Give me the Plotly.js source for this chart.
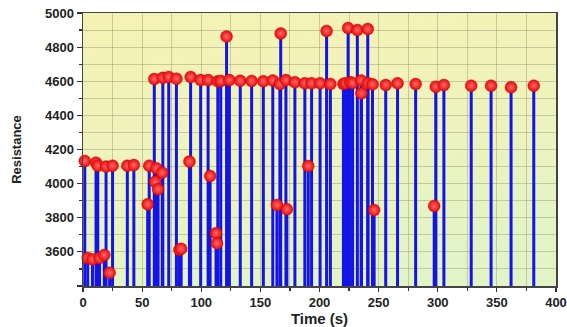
<!DOCTYPE html>
<html>
<head>
<meta charset="utf-8">
<script src="https://cdn.plot.ly/plotly-3.0.1.min.js"></script>
<style>
  html, body { margin: 0; padding: 0; background: #ffffff; }
  #chart { width: 567px; height: 327px; }
</style>
</head>
<body>
<div id="chart"></div>
<script>
// Time (s) of each measurement
const times = [
  1.5, 4, 8, 11, 12.5, 14, 18, 19.5, 22.5, 25,
  37.5, 43, 54.7, 56, 60.3, 61, 62, 63.5, 67, 67.5,
  72.5, 79, 81.5, 83, 90, 91, 99.5, 105.8, 107.5, 112.5,
  113.3, 114, 116.5, 121.4, 123.8, 133, 142.6, 152.5, 160.5, 164,
  166.5, 167.2, 171.6, 172.4, 179.2, 187.6, 190.5, 193.3, 200.5, 206,
  209.2, 220.2, 222, 224.2, 226, 228, 232, 235.2, 235.5, 240.8,
  241, 244.8, 246.2, 256, 266, 281.3, 297, 298.3, 305.2, 328.3,
  345.1, 362, 381.2
];
// Resistance at each time
const resistance = [
  4133, 3564, 3556, 4123, 4105, 3564, 3582, 4100, 3478, 4105,
  4105, 4109, 3879, 4105, 4613, 4011, 4090, 3967, 4064, 4620,
  4625, 4615, 3612, 3618, 4129, 4625, 4607, 4607, 4045, 3709,
  3650, 4600, 4602, 4862, 4607, 4603, 4602, 4600, 4605, 3875,
  4584, 4880, 4607, 3850, 4594, 4588, 4103, 4588, 4588, 4895,
  4584, 4584, 4588, 4912, 4594, 4590, 4900, 4605, 4529, 4906,
  4588, 4582, 3845, 4578, 4588, 4584, 3869, 4568, 4578, 4574,
  4574, 4565, 4574
];
const xTickVals = [0, 50, 100, 150, 200, 250, 300, 350, 400];
const yTickVals = [3400, 3600, 3800, 4000, 4200, 4400, 4600, 4800, 5000];
const yTickText = ["", "3600", "3800", "4000", "4200", "4400", "4600", "4800", "5000"];
const xMinorVals = [25, 75, 125, 175, 225, 275, 325, 375];
const yMinorVals = [3500, 3700, 3900, 4100, 4300, 4500, 4700, 4900];
const yBase = 3400;

// stems
const stemX = [], stemY = [];
times.forEach((t, i) => {
  stemX.push(t, t, null);
  stemY.push(yBase, resistance[i], null);
});

const stems = {
  x: stemX, y: stemY, type: 'scatter', mode: 'lines',
  line: { color: '#1414e6', width: 3 },
  hoverinfo: 'skip', showlegend: false
};
const heads = {
  x: times, y: resistance, type: 'scatter', mode: 'markers',
  marker: {
    color: '#e60a0a', size: 12,
    gradient: { type: 'radial', color: '#ff6a6a' },
    line: { color: '#d00000', width: 0.4 }
  },
  cliponaxis: false, showlegend: false
};

const svg = '<svg xmlns="http://www.w3.org/2000/svg" width="100" height="100" preserveAspectRatio="none">' +
  '<defs><linearGradient id="g" x1="0" y1="0" x2="0.25" y2="1">' +
  '<stop offset="0" stop-color="#f6f2b4"/><stop offset="0.5" stop-color="#eff3bc"/>' +
  '<stop offset="1" stop-color="#e2f4c6"/></linearGradient></defs>' +
  '<rect width="100" height="100" fill="url(#g)"/></svg>';
const bgURI = 'data:image/svg+xml;charset=utf-8,' + encodeURIComponent(svg);

const FAM = 'Liberation Sans, Arial, sans-serif';
const tickFont = { family: FAM, size: 13, color: '#222', weight: 'bold' };
const gridCol = 'rgba(150,150,110,0.45)';

const layout = {
  width: 567, height: 327,
  margin: { l: 83, r: 11, t: 13, b: 41 },
  paper_bgcolor: '#ffffff',
  plot_bgcolor: 'rgba(0,0,0,0)',
  images: [{
    source: bgURI, xref: 'paper', yref: 'paper', x: 0, y: 1,
    sizex: 1, sizey: 1, sizing: 'stretch', xanchor: 'left', yanchor: 'top', layer: 'below'
  }],
  xaxis: {
    range: [0, 400], tickmode: 'array', tickvals: xTickVals,
    ticks: 'outside', ticklen: 4, tickwidth: 1.2, tickcolor: '#333',
    showline: true, linecolor: '#444', linewidth: 1.5, mirror: true,
    showgrid: true, gridcolor: gridCol, gridwidth: 1, zeroline: false,
    tickfont: tickFont,
    minor: { tickmode: 'array', tickvals: xMinorVals, ticks: 'outside', ticklen: 3, tickcolor: '#333', showgrid: true, gridcolor: gridCol, gridwidth: 1 },
    title: { text: 'Time (s)', font: { family: FAM, size: 15, color: '#222', weight: 'bold' }, standoff: 8 }
  },
  yaxis: {
    range: [3400, 5000], tickmode: 'array', tickvals: yTickVals, ticktext: yTickText,
    ticks: 'outside', ticklen: 5, tickwidth: 1.2, tickcolor: '#333',
    showline: true, linecolor: '#444', linewidth: 1.5, mirror: true,
    showgrid: true, gridcolor: gridCol, gridwidth: 1, zeroline: false,
    tickfont: tickFont,
    minor: { tickmode: 'array', tickvals: yMinorVals, ticks: 'outside', ticklen: 3, tickcolor: '#333', showgrid: true, gridcolor: gridCol, gridwidth: 1 },
    title: { text: 'Resistance', font: { family: FAM, size: 13, color: '#222', weight: 'bold' }, standoff: 20 }
  },
  showlegend: false
};

Plotly.newPlot('chart', [stems, heads], layout, { displayModeBar: false, staticPlot: true });
</script>
</body>
</html>
